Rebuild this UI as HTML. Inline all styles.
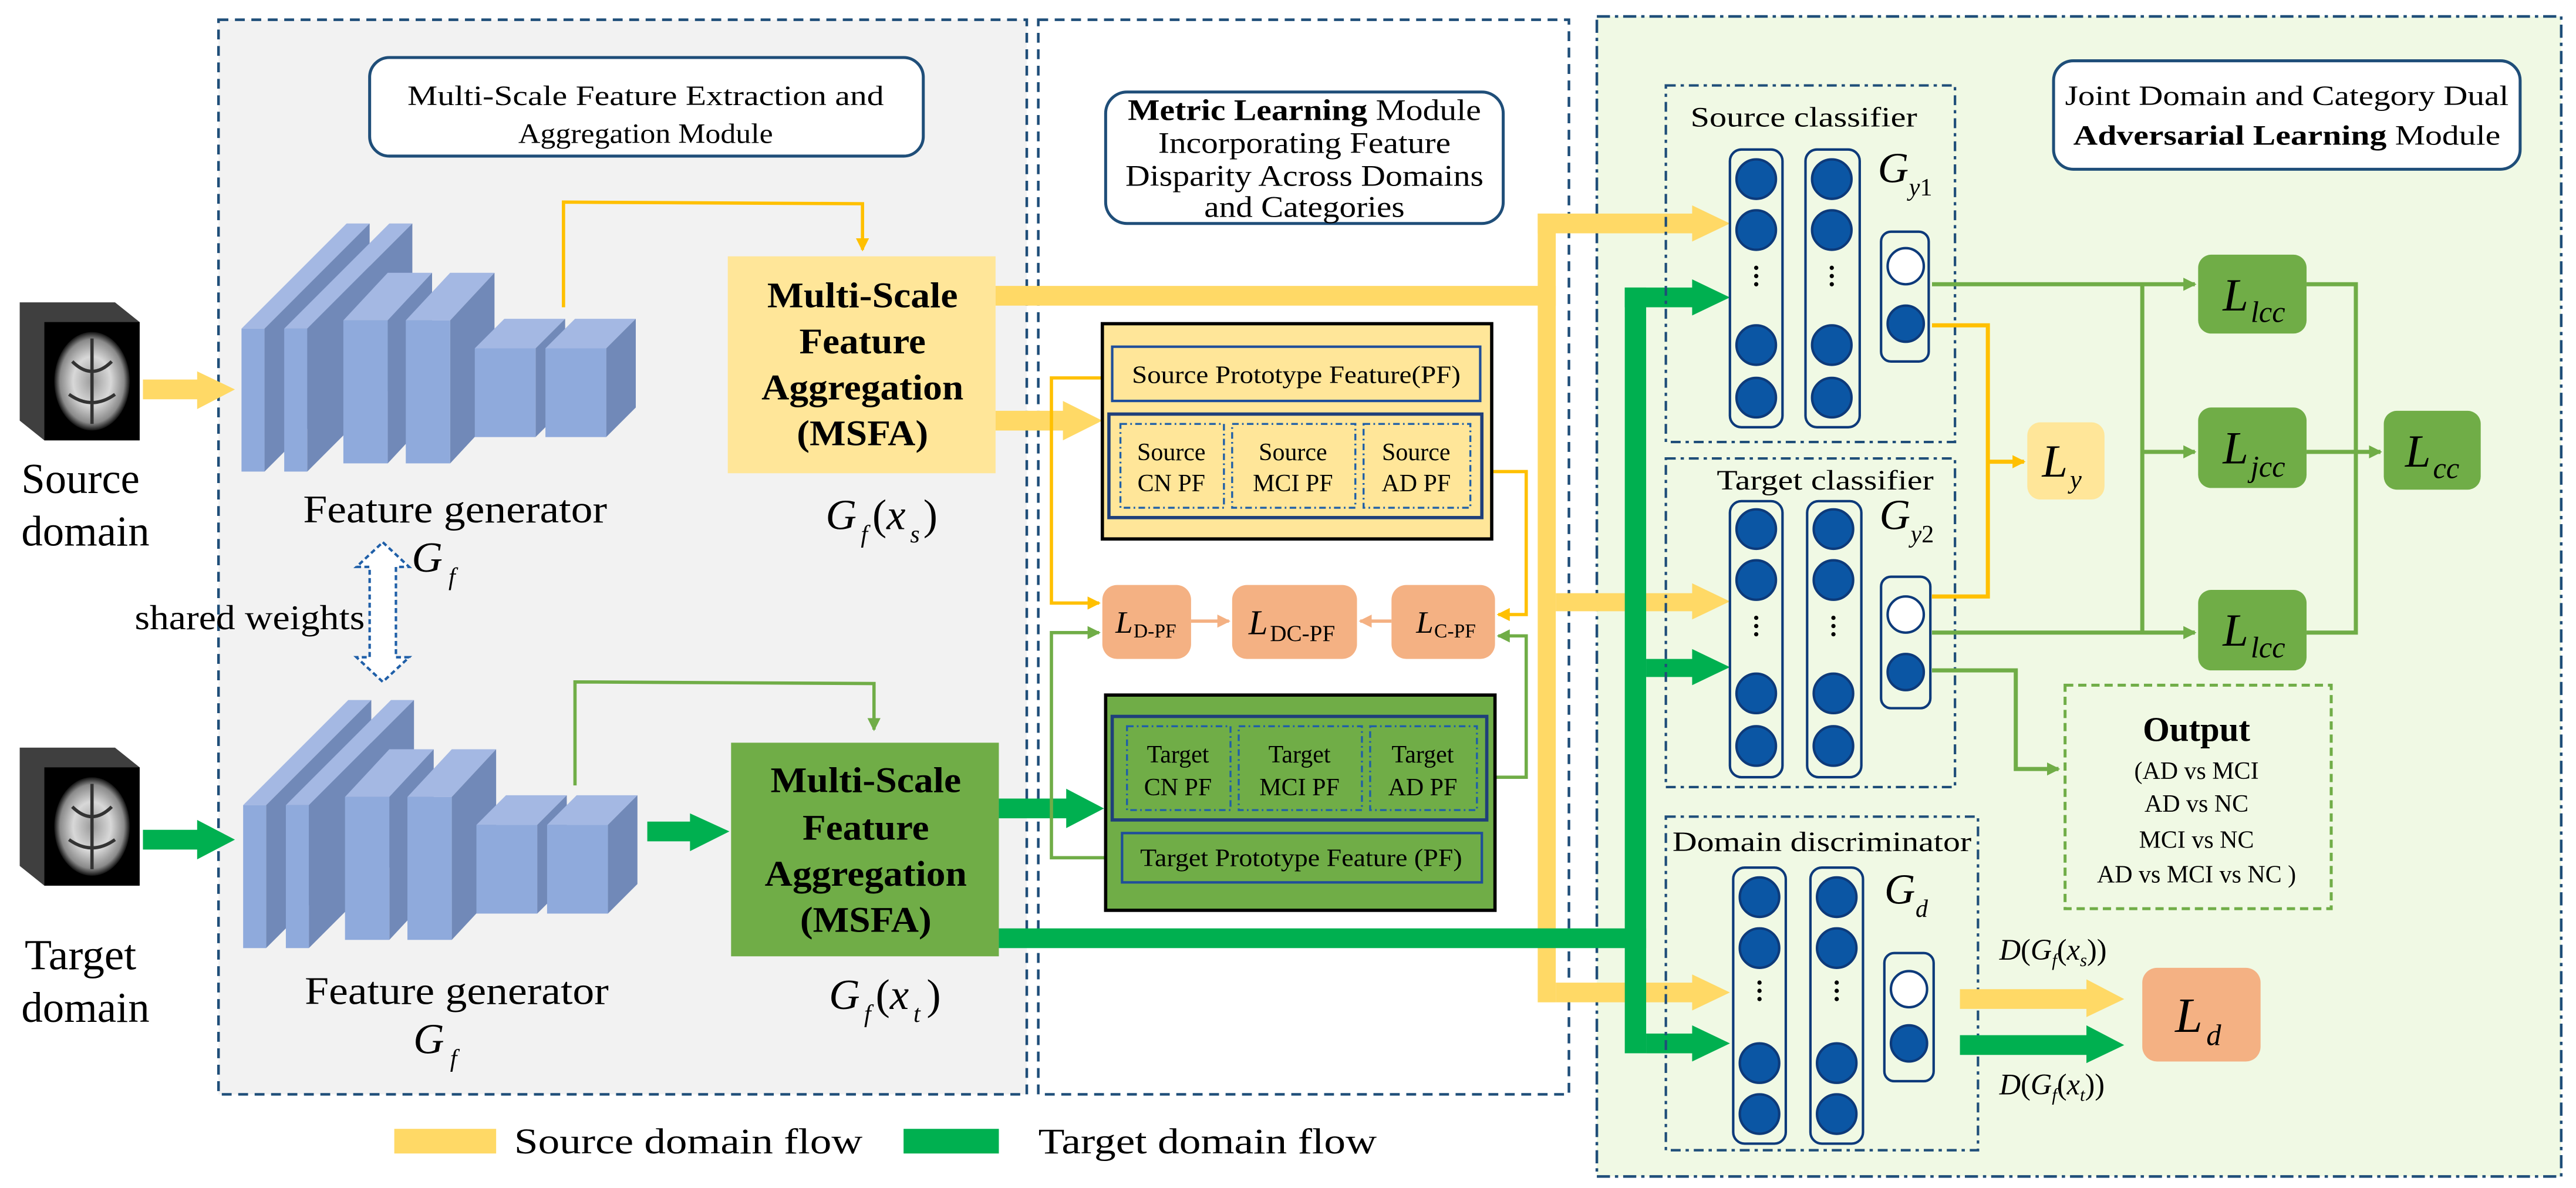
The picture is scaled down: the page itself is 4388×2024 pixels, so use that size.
<!DOCTYPE html>
<html><head><meta charset="utf-8"><style>
html,body{margin:0;padding:0;background:#fff;}
svg{display:block;}
svg, text{font-family:"Liberation Serif","DejaVu Serif","Noto Serif CJK SC",serif;}
text{fill:#000;}
.it{font-style:italic;}
.b{font-weight:bold;}
</style></head><body>
<svg width="4388" height="2024" viewBox="0 0 1568 723" preserveAspectRatio="none" xmlns="http://www.w3.org/2000/svg" font-family="Liberation Serif, DejaVu Serif, serif">
<defs>
<radialGradient id="br" cx="50%" cy="50%" r="50%">
<stop offset="0" stop-color="#9a9a9a"/><stop offset="0.5" stop-color="#d8d8d8"/><stop offset="0.85" stop-color="#8a8a8a"/><stop offset="1" stop-color="#111"/>
</radialGradient>
<marker id="ay" markerWidth="8" markerHeight="8" refX="7" refY="4" orient="auto" markerUnits="userSpaceOnUse"><path d="M0,0 L8,4 L0,8 Z" fill="#ffc000"/></marker>
<marker id="ag" markerWidth="8" markerHeight="8" refX="7" refY="4" orient="auto" markerUnits="userSpaceOnUse"><path d="M0,0 L8,4 L0,8 Z" fill="#70ad47"/></marker>
<marker id="ao" markerWidth="8" markerHeight="8" refX="7" refY="4" orient="auto" markerUnits="userSpaceOnUse"><path d="M0,0 L8,4 L0,8 Z" fill="#f4b183"/></marker>
</defs>

<!-- panels -->
<rect x="133" y="12" width="492" height="654" fill="#f2f2f2" stroke="#1f4e79" stroke-width="1.6" stroke-dasharray="6,4"/>
<rect x="632" y="12" width="323" height="654" fill="#fff" stroke="#1f4e79" stroke-width="1.6" stroke-dasharray="6,4"/>
<rect x="972" y="10" width="587" height="706" fill="#f0f9e4" stroke="#1f4e79" stroke-width="1.6" stroke-dasharray="8,3,2,3"/>

<!-- left title -->
<rect x="225" y="35" width="337" height="60" rx="12" fill="#fff" stroke="#1f4e79" stroke-width="1.8"/>
<text x="393" y="64" font-size="17" text-anchor="middle" textLength="290" lengthAdjust="spacingAndGlyphs">Multi-Scale Feature Extraction and</text>
<text x="393" y="87" font-size="17" text-anchor="middle" textLength="155" lengthAdjust="spacingAndGlyphs">Aggregation Module</text>

<!-- middle title -->
<rect x="673" y="56" width="242" height="80" rx="13" fill="#fff" stroke="#1f4e79" stroke-width="1.8"/>
<text x="794" y="73" font-size="18" text-anchor="middle" textLength="215" lengthAdjust="spacingAndGlyphs"><tspan class="b">Metric Learning</tspan> Module</text>
<text x="794" y="93" font-size="18" text-anchor="middle" textLength="178" lengthAdjust="spacingAndGlyphs">Incorporating Feature</text>
<text x="794" y="113" font-size="18" text-anchor="middle" textLength="218" lengthAdjust="spacingAndGlyphs">Disparity Across Domains</text>
<text x="794" y="132" font-size="18" text-anchor="middle" textLength="122" lengthAdjust="spacingAndGlyphs">and Categories</text>

<!-- right title -->
<rect x="1250" y="37" width="284" height="66" rx="12" fill="#fff" stroke="#1f4e79" stroke-width="1.8"/>
<text x="1392" y="64" font-size="17" text-anchor="middle" textLength="270" lengthAdjust="spacingAndGlyphs">Joint Domain and Category Dual</text>
<text x="1392" y="88" font-size="17" text-anchor="middle" textLength="260" lengthAdjust="spacingAndGlyphs"><tspan class="b">Adversarial Learning</tspan> Module</text>

<!-- brains -->
<g>
<polygon points="12,184 70,184 85,196 85,268 27,268 12,256" fill="#3f3f3f"/>
<rect x="27" y="196" width="58" height="72" fill="#000"/>
<ellipse cx="56" cy="232" rx="23" ry="30" fill="url(#br)"/>
<path d="M56,206 L56,258 M44,220 Q56,232 68,220 M42,240 Q56,250 70,240" stroke="#333" stroke-width="2" fill="none"/>
</g>
<g transform="translate(0,271)">
<polygon points="12,184 70,184 85,196 85,268 27,268 12,256" fill="#3f3f3f"/>
<rect x="27" y="196" width="58" height="72" fill="#000"/>
<ellipse cx="56" cy="232" rx="23" ry="30" fill="url(#br)"/>
<path d="M56,206 L56,258 M44,220 Q56,232 68,220 M42,240 Q56,250 70,240" stroke="#333" stroke-width="2" fill="none"/>
</g>
<text x="49" y="300" font-size="26" text-anchor="middle" textLength="72" lengthAdjust="spacingAndGlyphs">Source</text>
<text x="52" y="332" font-size="26" text-anchor="middle" textLength="78" lengthAdjust="spacingAndGlyphs">domain</text>
<text x="49" y="590" font-size="26" text-anchor="middle" textLength="68" lengthAdjust="spacingAndGlyphs">Target</text>
<text x="52" y="622" font-size="26" text-anchor="middle" textLength="78" lengthAdjust="spacingAndGlyphs">domain</text>

<!-- input arrows -->
<polygon points="87,231 120,231 120,226 143,237 120,249 120,243 87,243" fill="#ffd966"/>
<polygon points="87,505 120,505 120,499 143,511 120,523 120,517 87,517" fill="#00b050"/>

<!-- CNN source -->
<g id="cnn">
<polygon points="147,200 211,136 225,136 161,200" fill="#a4b8e3"/>
<polygon points="161,200 225,136 225,223 161,287" fill="#7189b8"/>
<rect x="147" y="200" width="14" height="87" fill="#8faadc"/>
<polygon points="173,200 237,136 251,136 187,200" fill="#a4b8e3"/>
<polygon points="187,200 251,136 251,223 187,287" fill="#7189b8"/>
<rect x="173" y="200" width="14" height="87" fill="#8faadc"/>
<polygon points="209,195 236,166 263,166 236,195" fill="#a4b8e3"/>
<polygon points="236,195 263,166 263,253 236,282" fill="#7189b8"/>
<rect x="209" y="195" width="27" height="87" fill="#8faadc"/>
<polygon points="247,195 274,166 301,166 274,195" fill="#a4b8e3"/>
<polygon points="274,195 301,166 301,253 274,282" fill="#7189b8"/>
<rect x="247" y="195" width="27" height="87" fill="#8faadc"/>
<polygon points="289,212 307,194 344,194 326,212" fill="#a4b8e3"/>
<polygon points="326,212 344,194 344,248 326,266" fill="#7189b8"/>
<rect x="289" y="212" width="37" height="54" fill="#8faadc"/>
<polygon points="332,212 350,194 387,194 369,212" fill="#a4b8e3"/>
<polygon points="369,212 387,194 387,248 369,266" fill="#7189b8"/>
<rect x="332" y="212" width="37" height="54" fill="#8faadc"/>
</g>
<use href="#cnn" transform="translate(1,290)"/>

<text x="277" y="318" font-size="24" text-anchor="middle" textLength="185" lengthAdjust="spacingAndGlyphs">Feature generator</text>
<text x="260" y="348" font-size="26" class="it" text-anchor="middle">G</text>
<text x="273" y="356" font-size="15" class="it">f</text>
<text x="278" y="611" font-size="24" text-anchor="middle" textLength="185" lengthAdjust="spacingAndGlyphs">Feature generator</text>
<text x="261" y="641" font-size="26" class="it" text-anchor="middle">G</text>
<text x="274" y="649" font-size="15" class="it">f</text>

<!-- shared weights -->
<polygon points="233,330 249,345 241,345 241,400 249,400 233,415 217,400 225,400 225,345 217,345" fill="#fff" stroke="#1f5fa8" stroke-width="1.5" stroke-dasharray="3,2"/>
<text x="152" y="383" font-size="21" text-anchor="middle" textLength="140" lengthAdjust="spacingAndGlyphs">shared weights</text>

<!-- skip lines -->
<polyline points="343,187 343,123 525,124 525,152" fill="none" stroke="#ffc000" stroke-width="2" marker-end="url(#ay)"/>
<polyline points="350,478 350,415 532,416 532,444" fill="none" stroke="#70ad47" stroke-width="2" marker-end="url(#ag)"/>

<!-- MSFA -->
<rect x="443" y="156" width="163" height="132" fill="#ffe699"/>
<text x="525" y="187" font-size="22" class="b" text-anchor="middle" textLength="116" lengthAdjust="spacingAndGlyphs">Multi-Scale</text>
<text x="525" y="215" font-size="22" class="b" text-anchor="middle" textLength="77" lengthAdjust="spacingAndGlyphs">Feature</text>
<text x="525" y="243" font-size="22" class="b" text-anchor="middle" textLength="123" lengthAdjust="spacingAndGlyphs">Aggregation</text>
<text x="525" y="271" font-size="22" class="b" text-anchor="middle" textLength="80" lengthAdjust="spacingAndGlyphs">(MSFA)</text>
<text x="512" y="322" font-size="26" class="it" text-anchor="middle">G</text>
<text x="524" y="330" font-size="15" class="it">f</text>
<text x="531" y="322" font-size="26">(<tspan class="it">x</tspan></text>
<text x="554" y="330" font-size="15" class="it">s</text>
<text x="562" y="322" font-size="26">)</text>

<rect x="445" y="452" width="163" height="130" fill="#70ad47"/>
<text x="527" y="482" font-size="22" class="b" text-anchor="middle" textLength="116" lengthAdjust="spacingAndGlyphs">Multi-Scale</text>
<text x="527" y="511" font-size="22" class="b" text-anchor="middle" textLength="77" lengthAdjust="spacingAndGlyphs">Feature</text>
<text x="527" y="539" font-size="22" class="b" text-anchor="middle" textLength="123" lengthAdjust="spacingAndGlyphs">Aggregation</text>
<text x="527" y="567" font-size="22" class="b" text-anchor="middle" textLength="80" lengthAdjust="spacingAndGlyphs">(MSFA)</text>
<text x="514" y="614" font-size="26" class="it" text-anchor="middle">G</text>
<text x="526" y="622" font-size="15" class="it">f</text>
<text x="533" y="614" font-size="26">(<tspan class="it">x</tspan></text>
<text x="556" y="622" font-size="15" class="it">t</text>
<text x="564" y="614" font-size="26">)</text>

<polygon points="394,500 420,500 420,495 444,506 420,518 420,512 394,512" fill="#00b050"/>

<rect x="606" y="174" width="341" height="12" fill="#ffd966"/>
<polygon points="606,250 647,250 647,244 671,256 647,268 647,262 606,262" fill="#ffd966"/>
<polygon points="608,486 649,486 649,480 672,492 649,504 649,498 608,498" fill="#00b050"/>

<polyline points="671,230 640,230 640,367 669,367" fill="none" stroke="#ffc000" stroke-width="2" marker-end="url(#ay)"/>
<polyline points="909,287 929,287 929,374 912,374" fill="none" stroke="#ffc000" stroke-width="2" marker-end="url(#ay)"/>
<polyline points="673,522 640,522 640,385 669,385" fill="none" stroke="#70ad47" stroke-width="2" marker-end="url(#ag)"/>
<polyline points="905,473 929,473 929,387 912,387" fill="none" stroke="#70ad47" stroke-width="2" marker-end="url(#ag)"/>

<!-- Source PF -->
<rect x="671" y="197" width="237" height="131" fill="#ffe699" stroke="#000" stroke-width="2"/>
<rect x="677" y="211" width="224" height="33" fill="none" stroke="#1f4e9a" stroke-width="1.5"/>
<text x="789" y="233" font-size="15" text-anchor="middle" textLength="200" lengthAdjust="spacingAndGlyphs">Source Prototype Feature(PF)</text>
<rect x="675" y="252" width="227" height="63" fill="none" stroke="#1f3f7a" stroke-width="2"/>
<rect x="682" y="258" width="63" height="51" fill="none" stroke="#1f5fa8" stroke-width="1.2" stroke-dasharray="4,2,1,2"/>
<rect x="750" y="258" width="75" height="51" fill="none" stroke="#1f5fa8" stroke-width="1.2" stroke-dasharray="4,2,1,2"/>
<rect x="830" y="258" width="65" height="51" fill="none" stroke="#1f5fa8" stroke-width="1.2" stroke-dasharray="4,2,1,2"/>
<g font-size="15" text-anchor="middle">
<text x="713" y="280">Source</text><text x="713" y="299">CN PF</text>
<text x="787" y="280">Source</text><text x="787" y="299">MCI PF</text>
<text x="862" y="280">Source</text><text x="862" y="299">AD PF</text>
</g>

<rect x="671" y="356" width="54" height="45" rx="9" fill="#f4b183"/>
<rect x="750" y="356" width="76" height="45" rx="9" fill="#f4b183"/>
<rect x="847" y="356" width="63" height="45" rx="9" fill="#f4b183"/>
<line x1="725" y1="378" x2="748" y2="378" stroke="#f4b183" stroke-width="2" marker-end="url(#ao)"/>
<line x1="847" y1="378" x2="828" y2="378" stroke="#f4b183" stroke-width="2" marker-end="url(#ao)"/>
<text x="679" y="385" font-size="19" class="it">L</text><text x="690" y="388" font-size="12">D-PF</text>
<text x="760" y="386" font-size="21" class="it">L</text><text x="773" y="390" font-size="14">DC-PF</text>
<text x="862" y="385" font-size="19" class="it">L</text><text x="873" y="388" font-size="12">C-PF</text>

<!-- Target PF -->
<rect x="673" y="423" width="237" height="131" fill="#70ad47" stroke="#000" stroke-width="2"/>
<rect x="677" y="436" width="228" height="63" fill="none" stroke="#1f3f7a" stroke-width="2"/>
<rect x="686" y="442" width="63" height="51" fill="none" stroke="#1f5fa8" stroke-width="1.2" stroke-dasharray="4,2,1,2"/>
<rect x="754" y="442" width="75" height="51" fill="none" stroke="#1f5fa8" stroke-width="1.2" stroke-dasharray="4,2,1,2"/>
<rect x="834" y="442" width="65" height="51" fill="none" stroke="#1f5fa8" stroke-width="1.2" stroke-dasharray="4,2,1,2"/>
<g font-size="15" text-anchor="middle">
<text x="717" y="464">Target</text><text x="717" y="484">CN PF</text>
<text x="791" y="464">Target</text><text x="791" y="484">MCI PF</text>
<text x="866" y="464">Target</text><text x="866" y="484">AD PF</text>
</g>
<rect x="683" y="507" width="219" height="30" fill="none" stroke="#1f4e9a" stroke-width="1.5"/>
<text x="792" y="527" font-size="15" text-anchor="middle" textLength="196" lengthAdjust="spacingAndGlyphs">Target Prototype Feature (PF)</text>

<!-- yellow bus -->
<rect x="936" y="130" width="11" height="480" fill="#ffd966"/>
<polygon points="936,130 1030,130 1030,125 1053,136 1030,147 1030,142 936,142" fill="#ffd966"/>
<polygon points="947,361 1030,361 1030,355 1053,366 1030,377 1030,372 947,372" fill="#ffd966"/>
<polygon points="947,598 1030,598 1030,593 1053,604 1030,615 1030,610 947,610" fill="#ffd966"/>

<!-- green bus -->
<rect x="608" y="565" width="394" height="12" fill="#00b050"/>
<rect x="989" y="175" width="13" height="466" fill="#00b050"/>
<polygon points="989,175 1030,175 1030,170 1053,181 1030,192 1030,187 989,187" fill="#00b050"/>
<polygon points="1002,401 1030,401 1030,395 1053,406 1030,417 1030,412 1002,412" fill="#00b050"/>
<polygon points="1002,629 1030,629 1030,624 1053,635 1030,646 1030,641 1002,641" fill="#00b050"/>

<rect x="1014" y="52" width="176" height="217" fill="none" stroke="#1f4e79" stroke-width="1.5" stroke-dasharray="6,3,2,3"/>
<rect x="1014" y="279" width="176" height="200" fill="none" stroke="#1f4e79" stroke-width="1.5" stroke-dasharray="6,3,2,3"/>
<rect x="1014" y="497" width="190" height="203" fill="none" stroke="#1f4e79" stroke-width="1.5" stroke-dasharray="6,3,2,3"/>
<text x="1098" y="77" font-size="17" text-anchor="middle" textLength="138" lengthAdjust="spacingAndGlyphs">Source classifier</text>
<text x="1111" y="298" font-size="17" text-anchor="middle" textLength="132" lengthAdjust="spacingAndGlyphs">Target classifier</text>
<text x="1109" y="518" font-size="17" text-anchor="middle" textLength="182" lengthAdjust="spacingAndGlyphs">Domain discriminator</text>

<g stroke="#0d3a7a" stroke-width="1.5">
<rect x="1053" y="91" width="32" height="169" rx="7" fill="none"/>
<rect x="1099" y="91" width="33" height="169" rx="7" fill="none"/>
<circle cx="1069" cy="109" r="12" fill="#0b56a4"/><circle cx="1069" cy="140" r="12" fill="#0b56a4"/><circle cx="1069" cy="210" r="12" fill="#0b56a4"/><circle cx="1069" cy="242" r="12" fill="#0b56a4"/>
<circle cx="1115" cy="109" r="12" fill="#0b56a4"/><circle cx="1115" cy="140" r="12" fill="#0b56a4"/><circle cx="1115" cy="210" r="12" fill="#0b56a4"/><circle cx="1115" cy="242" r="12" fill="#0b56a4"/>
<rect x="1145" y="141" width="29" height="79" rx="6" fill="none"/>
<circle cx="1160" cy="162" r="11" fill="#fff"/><circle cx="1160" cy="197" r="11" fill="#0b56a4"/>
<rect x="1053" y="305" width="32" height="168" rx="7" fill="none"/>
<rect x="1100" y="305" width="33" height="168" rx="7" fill="none"/>
<circle cx="1069" cy="322" r="12" fill="#0b56a4"/><circle cx="1069" cy="353" r="12" fill="#0b56a4"/><circle cx="1069" cy="422" r="12" fill="#0b56a4"/><circle cx="1069" cy="454" r="12" fill="#0b56a4"/>
<circle cx="1116" cy="322" r="12" fill="#0b56a4"/><circle cx="1116" cy="353" r="12" fill="#0b56a4"/><circle cx="1116" cy="422" r="12" fill="#0b56a4"/><circle cx="1116" cy="454" r="12" fill="#0b56a4"/>
<rect x="1145" y="351" width="30" height="80" rx="6" fill="none"/>
<circle cx="1160" cy="374" r="11" fill="#fff"/><circle cx="1160" cy="409" r="11" fill="#0b56a4"/>
<rect x="1055" y="528" width="32" height="168" rx="7" fill="none"/>
<rect x="1102" y="528" width="32" height="168" rx="7" fill="none"/>
<circle cx="1071" cy="546" r="12" fill="#0b56a4"/><circle cx="1071" cy="577" r="12" fill="#0b56a4"/><circle cx="1071" cy="647" r="12" fill="#0b56a4"/><circle cx="1071" cy="678" r="12" fill="#0b56a4"/>
<circle cx="1118" cy="546" r="12" fill="#0b56a4"/><circle cx="1118" cy="577" r="12" fill="#0b56a4"/><circle cx="1118" cy="647" r="12" fill="#0b56a4"/><circle cx="1118" cy="678" r="12" fill="#0b56a4"/>
<rect x="1147" y="580" width="30" height="78" rx="6" fill="none"/>
<circle cx="1162" cy="602" r="11" fill="#fff"/><circle cx="1162" cy="635" r="11" fill="#0b56a4"/>
</g>
<g fill="#000">
<circle cx="1069" cy="163" r="1.3"/><circle cx="1069" cy="168" r="1.3"/><circle cx="1069" cy="173" r="1.3"/>
<circle cx="1115" cy="163" r="1.3"/><circle cx="1115" cy="168" r="1.3"/><circle cx="1115" cy="173" r="1.3"/>
<circle cx="1069" cy="376" r="1.3"/><circle cx="1069" cy="381" r="1.3"/><circle cx="1069" cy="386" r="1.3"/>
<circle cx="1116" cy="376" r="1.3"/><circle cx="1116" cy="381" r="1.3"/><circle cx="1116" cy="386" r="1.3"/>
<circle cx="1071" cy="598" r="1.3"/><circle cx="1071" cy="603" r="1.3"/><circle cx="1071" cy="608" r="1.3"/>
<circle cx="1118" cy="598" r="1.3"/><circle cx="1118" cy="603" r="1.3"/><circle cx="1118" cy="608" r="1.3"/>
</g>
<text x="1143" y="111" font-size="26" class="it">G</text><text x="1162" y="119" font-size="15"><tspan class="it">y</tspan>1</text>
<text x="1144" y="322" font-size="26" class="it">G</text><text x="1163" y="330" font-size="15"><tspan class="it">y</tspan>2</text>
<text x="1147" y="550" font-size="26" class="it">G</text><text x="1166" y="558" font-size="15" class="it">d</text>

<g fill="none" stroke="#70ad47" stroke-width="2.5">
<polyline points="1176,173 1336,173" marker-end="url(#ag)"/>
<polyline points="1304,173 1304,385"/>
<polyline points="1304,275 1336,275" marker-end="url(#ag)"/>
<polyline points="1176,385 1336,385" marker-end="url(#ag)"/>
<polyline points="1404,173 1434,173 1434,385 1404,385"/>
<polyline points="1404,275 1449,275" marker-end="url(#ag)"/>
<polyline points="1176,408 1227,408 1227,468 1253,468" marker-end="url(#ag)"/>
</g>
<polyline points="1176,198 1210,198 1210,363 1176,363" fill="none" stroke="#ffc000" stroke-width="2.5"/>
<polyline points="1210,281 1232,281" fill="none" stroke="#ffc000" stroke-width="2.5" marker-end="url(#ay)"/>

<rect x="1234" y="257" width="47" height="47" rx="8" fill="#ffe699"/>
<text x="1243" y="290" font-size="28" class="it">L</text><text x="1260" y="297" font-size="16" class="it">y</text>
<rect x="1338" y="155" width="66" height="48" rx="8" fill="#70ad47"/>
<text x="1353" y="189" font-size="28" class="it">L</text><text x="1370" y="196" font-size="18" class="it">lcc</text>
<rect x="1338" y="248" width="66" height="49" rx="8" fill="#70ad47"/>
<text x="1353" y="282" font-size="28" class="it">L</text><text x="1370" y="290" font-size="18" class="it">jcc</text>
<rect x="1338" y="359" width="66" height="49" rx="8" fill="#70ad47"/>
<text x="1353" y="393" font-size="28" class="it">L</text><text x="1370" y="400" font-size="18" class="it">lcc</text>
<rect x="1451" y="250" width="59" height="48" rx="8" fill="#70ad47"/>
<text x="1464" y="284" font-size="28" class="it">L</text><text x="1481" y="291" font-size="18" class="it">cc</text>

<rect x="1257" y="417" width="162" height="136" fill="none" stroke="#70ad47" stroke-width="1.8" stroke-dasharray="5,3"/>
<text x="1337" y="451" font-size="21" class="b" text-anchor="middle">Output</text>
<g font-size="15" text-anchor="middle">
<text x="1337" y="474">(AD vs MCI</text>
<text x="1337" y="494">AD vs NC</text>
<text x="1337" y="516">MCI vs NC</text>
<text x="1337" y="537">AD vs MCI vs NC )</text>
</g>

<polygon points="1193,602 1270,602 1270,596 1293,608 1270,619 1270,614 1193,614" fill="#ffd966"/>
<polygon points="1193,630 1270,630 1270,624 1293,636 1270,647 1270,642 1193,642" fill="#00b050"/>
<rect x="1304" y="589" width="72" height="57" rx="9" fill="#f4b183"/>
<text x="1324" y="628" font-size="30" class="it">L</text><text x="1343" y="636" font-size="18" class="it">d</text>
<text x="1217" y="584" font-size="18"><tspan class="it">D</tspan>(<tspan class="it">G</tspan><tspan font-size="11" dy="4" class="it">f</tspan><tspan dy="-4">(</tspan><tspan class="it">x</tspan><tspan font-size="11" dy="4" class="it">s</tspan><tspan dy="-4">))</tspan></text>
<text x="1217" y="666" font-size="18"><tspan class="it">D</tspan>(<tspan class="it">G</tspan><tspan font-size="11" dy="4" class="it">f</tspan><tspan dy="-4">(</tspan><tspan class="it">x</tspan><tspan font-size="11" dy="4" class="it">t</tspan><tspan dy="-4">))</tspan></text>

<rect x="240" y="687" width="62" height="15" fill="#ffd966"/>
<text x="313" y="702" font-size="22" textLength="212" lengthAdjust="spacingAndGlyphs">Source domain flow</text>
<rect x="550" y="687" width="58" height="15" fill="#00b050"/>
<text x="632" y="702" font-size="22" textLength="206" lengthAdjust="spacingAndGlyphs">Target domain flow</text>
</svg>
</body></html>
